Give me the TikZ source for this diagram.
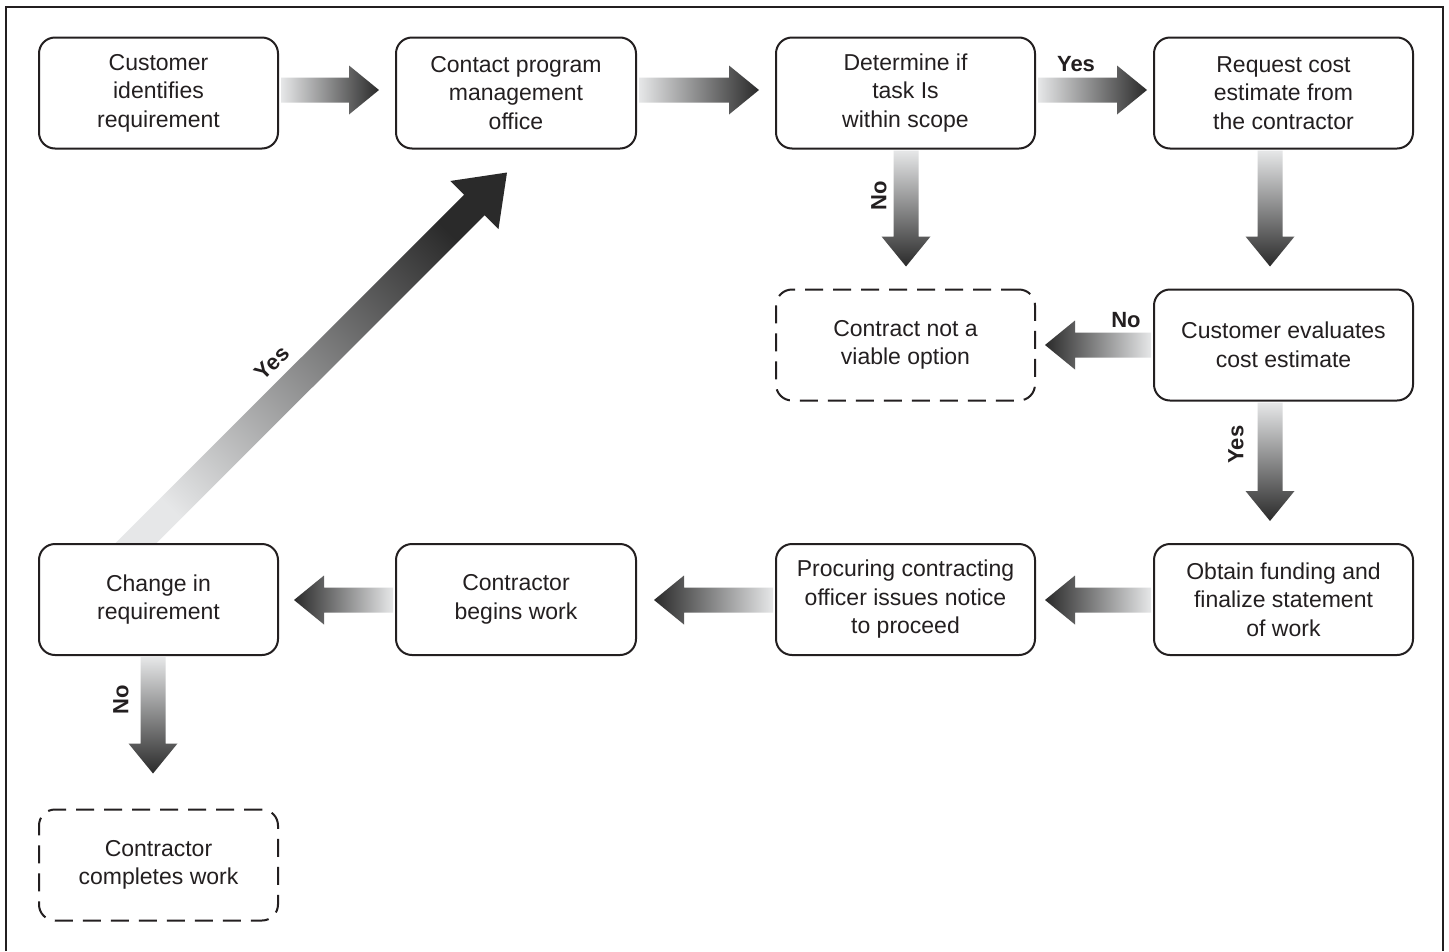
\documentclass[tikz,border=0pt]{standalone}
\usepackage{fontspec}
\setmainfont{Liberation Sans}
\usetikzlibrary{calc}
\definecolor{lite}{HTML}{E6E7E8}
\definecolor{dark}{HTML}{2A2A2A}
\definecolor{ink}{HTML}{231F20}
\tikzset{
  box/.style={draw=ink, line width=2pt, rounded corners=16pt, minimum width=#1,
    minimum height=111pt, align=center, inner sep=0pt, text=ink,
    font=\fontsize{23}{28.5}\selectfont},
  dbox/.style={box=#1, dash pattern=on 18pt off 10pt},
  lbl/.style={font=\bfseries\fontsize{22}{24}\selectfont, text=ink, inner sep=0pt},
  toR/.style={left color=lite, right color=dark},
  toL/.style={left color=dark, right color=lite},
  toD/.style={top color=lite, bottom color=dark},
  toUR/.style={top color=dark, bottom color=lite, shading angle=-45},
}
% #1 shading style, #2 start, #3 tip, #4 shaft half width, #5 head half width, #6 head length
\newcommand\blockarrow[6]{%
  \path ($(#3)!#6!(#2)$) coordinate (hb);
  \shade[#1] ($(#2)!#4!90:(#3)$) -- ($(hb)!#4!90:(#3)$) -- ($(hb)!#5!90:(#3)$)
    -- (#3) -- ($(hb)!#5!-90:(#3)$) -- ($(hb)!#4!-90:(#3)$) -- ($(#2)!#4!-90:(#3)$) -- cycle;
}
\newcommand\stdarrow[3]{\blockarrow{#1}{#2}{#3}{12.5pt}{24.5pt}{30pt}}
\begin{document}
\begin{tikzpicture}[x=1pt,y=-1pt]
\useasboundingbox (0,0) rectangle (1449,951);
\fill[white] (0,0) rectangle (1449,951);
\draw[ink, line width=1.5pt] (6,951) -- (6,7) -- (1443,7) -- (1443,951);

\node[box=239pt] (b1) at (158.5,93) {Customer\\identifies\\requirement};
\node[box=240pt] (b2) at (516,93) {Contact program\\management\\office};
\node[box=259pt] (b3) at (905.5,93) {Determine if\\task Is\\within scope};
\node[box=259pt] (b4) at (1283.5,93) {Request cost\\estimate from\\the contractor};
\node[dbox=259pt] (b5) at (905.5,345) {Contract not a\\viable option};
\node[box=259pt] (b6) at (1283.5,345) {Customer evaluates\\cost estimate};
\node[box=239pt] (b7) at (158.5,599.5) {Change in\\requirement};
\node[box=240pt] (b8) at (516,599.5) {Contractor\\begins work};
\node[box=259pt] (b9) at (905.5,599.5) {Procuring contracting\\officer issues notice\\to proceed};
\node[box=259pt] (b10) at (1283.5,599.5) {Obtain funding and\\finalize statement\\of work};
\node[dbox=239pt] (b11) at (158.5,865) {Contractor\\completes work};

\coordinate (a1s) at ($(b1.east)+(2,-3)$);
\coordinate (a1e) at ($(b2.west)+(-16,-3)$);
\coordinate (a2s) at ($(b2.east)+(2,-3)$);
\coordinate (a2e) at ($(b3.west)+(-16,-3)$);
\coordinate (a3s) at ($(b3.east)+(2,-3)$);
\coordinate (a3e) at ($(b4.west)+(-6,-3)$);
\coordinate (a4s) at ($(b3.south)+(0.5,1)$);
\coordinate (a4e) at ($(b5.north)+(0.5,-22)$);
\coordinate (a5s) at ($(b4.south)+(-13.5,1)$);
\coordinate (a5e) at ($(b6.north)+(-13.5,-22)$);
\coordinate (a6s) at ($(b6.west)+(-2,0)$);
\coordinate (a6e) at ($(b5.east)+(9,0)$);
\coordinate (a7s) at ($(b6.south)+(-13.5,1)$);
\coordinate (a7e) at ($(b10.north)+(-13.5,-22)$);
\coordinate (a8s) at ($(b10.west)+(-2,0.5)$);
\coordinate (a8e) at ($(b9.east)+(9,0.5)$);
\coordinate (a9s) at ($(b9.west)+(-2,0.5)$);
\coordinate (a9e) at ($(b8.east)+(17,0.5)$);
\coordinate (a10s) at ($(b8.west)+(-2,0.5)$);
\coordinate (a10e) at ($(b7.east)+(15,0.5)$);
\coordinate (a11s) at ($(b7.south)+(-5.5,1)$);
\coordinate (a11e) at ($(b11.north)+(-5.5,-35)$);
\coordinate (a12s) at ($(b7.north)+(-36.5,14)$);
\coordinate (a12e) at ($(b2.south)+(-9,23)$);

\stdarrow{toR}{a1s}{a1e}
\stdarrow{toR}{a2s}{a2e}
\stdarrow{toR}{a3s}{a3e}
\stdarrow{toD}{a4s}{a4e}
\stdarrow{toD}{a5s}{a5e}
\stdarrow{toL}{a6s}{a6e}
\stdarrow{toD}{a7s}{a7e}
\stdarrow{toL}{a8s}{a8e}
\stdarrow{toL}{a9s}{a9e}
\stdarrow{toL}{a10s}{a10e}
\stdarrow{toD}{a11s}{a11e}
\begin{scope}
  \clip (0,0) rectangle ($(b7.north)+(1200,-1)$);
  \blockarrow{toUR}{a12s}{a12e}{14.5pt}{34pt}{46pt}
\end{scope}

\node[lbl] (l3) at ($(a3s)+(38,-26)$) {Yes};
\node[lbl, rotate=90] (l4) at ($(a4s)+(-27,45)$) {No};
\node[lbl] (l6) at ($(a6s)+(-25,-25)$) {No};
\node[lbl, rotate=90] (l7) at ($(a7s)+(-34,42)$) {Yes};
\node[lbl, rotate=90] (l11) at ($(a11s)+(-32,43)$) {No};
\node[lbl, rotate=45] (l12) at (272,363) {Yes};
\end{tikzpicture}
\end{document}
